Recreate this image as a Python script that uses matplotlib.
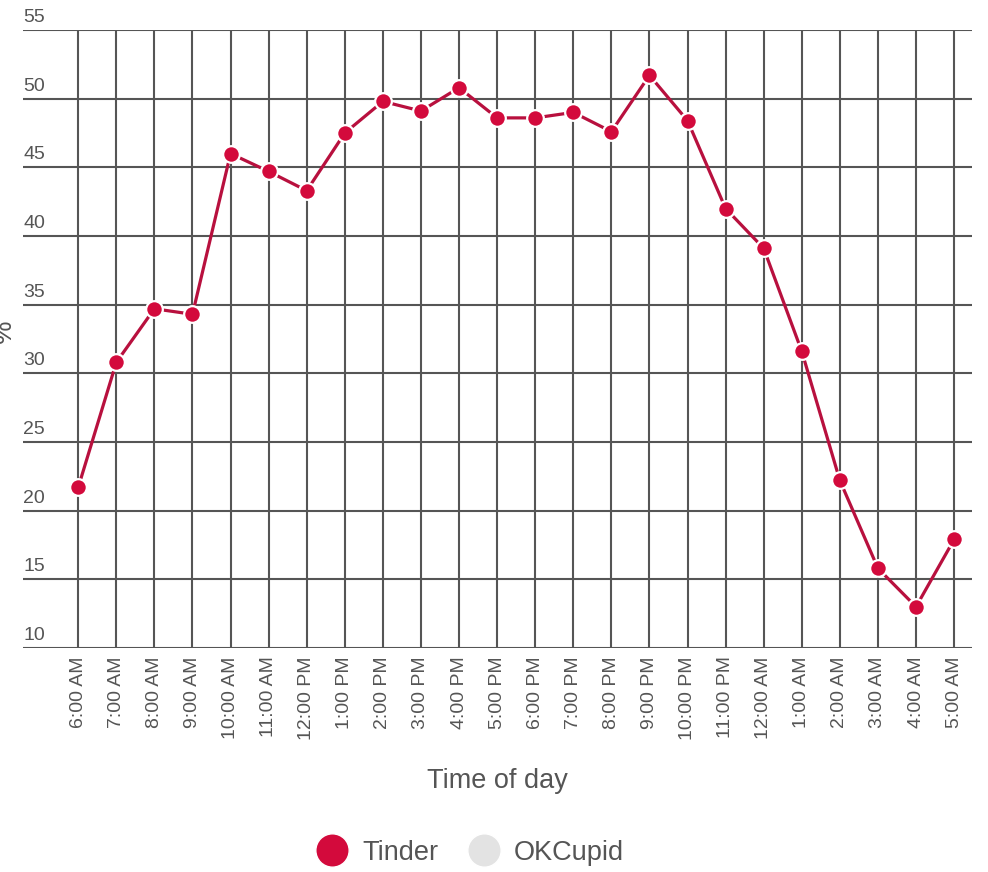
import matplotlib.pyplot as plt
from matplotlib.lines import Line2D

plt.rcParams['font.family'] = ['Liberation Sans', 'DejaVu Sans']

hours = ['6:00 AM', '7:00 AM', '8:00 AM', '9:00 AM', '10:00 AM', '11:00 AM',
         '12:00 PM', '1:00 PM', '2:00 PM', '3:00 PM', '4:00 PM', '5:00 PM',
         '6:00 PM', '7:00 PM', '8:00 PM', '9:00 PM', '10:00 PM', '11:00 PM',
         '12:00 AM', '1:00 AM', '2:00 AM', '3:00 AM', '4:00 AM', '5:00 AM']
tinder = [21.7, 30.8, 34.7, 34.3, 46.0, 44.7, 43.3, 47.5, 49.8, 49.1, 50.8, 48.6,
          48.6, 49.0, 47.6, 51.7, 48.4, 42.0, 39.1, 31.6, 22.2, 15.8, 13.0, 17.9]
y_ticks = [10, 15, 20, 25, 30, 35, 40, 45, 50, 55]

grid_col = '#555555'
text_col = '#555555'
line_col = '#b8103e'
dot_col = '#d30a3c'
okc_col = '#e3e3e3'

fig = plt.figure(figsize=(9.88, 8.72), dpi=100)
ax = fig.add_axes([0.0233, 0.2569, 0.9605, 0.7087])

x = list(range(len(hours)))
ax.set_xlim(-1.45, len(hours) - 1 + 0.47)
ax.set_ylim(10, 55)

# grid
for v in y_ticks:
    ax.axhline(v, color=grid_col, lw=1.5, zorder=1)
    ax.text(-1.45, v + 0.3, str(v), color=text_col, fontsize=14,
            ha='left', va='bottom')
for i in x:
    ax.axvline(i, color=grid_col, lw=1.5, zorder=1)

ax.plot(x, tinder, color=line_col, lw=2.3, zorder=3,
        marker='o', markersize=12, markerfacecolor=dot_col,
        markeredgecolor='white', markeredgewidth=1.6)

ax.set_xticks(x)
ax.set_xticklabels(hours, rotation=90, color=text_col, fontsize=14)
ax.tick_params(axis='x', length=0, pad=6)
ax.set_yticks([])
for s in ax.spines.values():
    s.set_visible(False)

ax.set_xlabel('Time of day', color=text_col, fontsize=19.5, labelpad=20)
fig.text(-0.008, 0.62, '%', rotation=90, color=text_col, fontsize=19,
         ha='left', va='center')

handles = [Line2D([], [], ls='none', marker='o', markersize=24,
                  markerfacecolor=dot_col, markeredgecolor='white', label='Tinder'),
           Line2D([], [], ls='none', marker='o', markersize=24,
                  markerfacecolor=okc_col, markeredgecolor='white', label='OKCupid')]
leg = fig.legend(handles=handles, loc='center', bbox_to_anchor=(0.476, 0.022),
                 ncol=2, frameon=False, fontsize=19.5, handletextpad=0.5,
                 columnspacing=1.1, handlelength=1.2)
for t in leg.get_texts():
    t.set_color(text_col)

fig.savefig('out.png', dpi=100)
